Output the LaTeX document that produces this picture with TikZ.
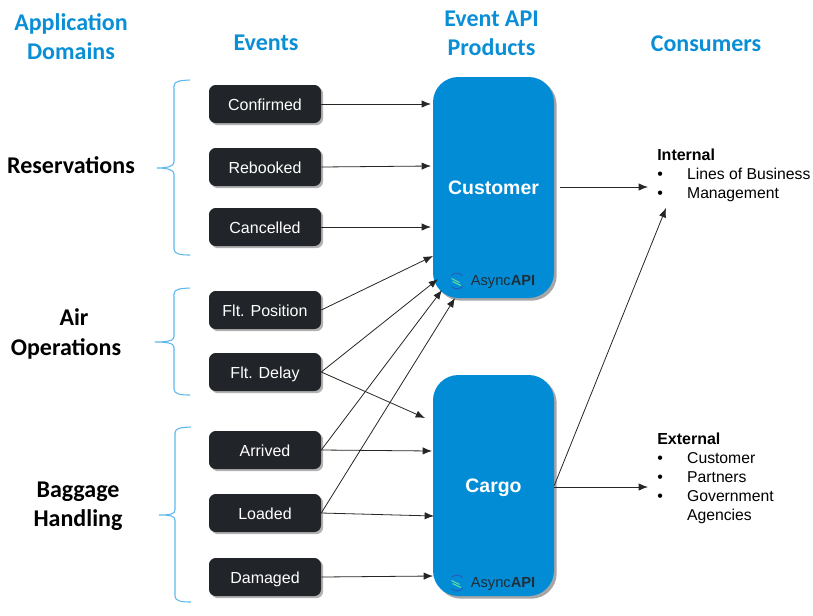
\documentclass[tikz,border=0pt]{standalone}
\usepackage{fontspec}
\setmainfont{Liberation Sans}
\newfontfamily\carl{Carlito}
\usetikzlibrary{shadows,arrows.meta}
\definecolor{hblue}{HTML}{0A8FD6}
\definecolor{pblue}{HTML}{028CD6}
\definecolor{evbox}{HTML}{212529}
\definecolor{bracecol}{HTML}{5CB8EC}
\tikzset{
 hdrtext/.style={font=\carl\bfseries\fontsize{18}{21.75}\selectfont,text=hblue,align=center},
 domlabel/.style={font=\carl\bfseries\fontsize{18}{22}\selectfont,text=black,align=center},
 evbox/.style={draw=none,fill=evbox,rounded corners=5,minimum width=84pt,minimum height=28.5pt,inner sep=0pt,text=white,text height=9pt,text depth=0pt,font=\fontsize{12}{14}\selectfont,drop shadow={shadow xshift=1.6pt,shadow yshift=-1.6pt,fill=black,opacity=.3}},
 prodbox/.style={fill=pblue,rounded corners=19,minimum width=90.75pt,minimum height=165.75pt,inner sep=0pt,drop shadow={shadow xshift=2pt,shadow yshift=-2pt,fill=black,opacity=.35}},
 prodlab/.style={text=white,text height=9pt,text depth=0pt,font=\bfseries\fontsize{14.6}{16}\selectfont},
 conn/.style={draw=black!85,line width=.6pt,-{Latex[length=7pt,width=5.5pt]}},
 brc/.style={draw=bracecol,line width=.8pt},
 constext/.style={align=left,anchor=north west,inner sep=0pt,font=\fontsize{12}{14.3}\selectfont,text=black},
 logotext/.style={inner sep=0pt,text=evbox!90!pblue,font=\fontsize{11}{13}\selectfont},
 logoarc/.style={draw=violet!35!pblue,line width=.7pt},
 logoline/.style={draw=green!45!white!70!pblue,line width=.8pt},
}
\newcommand{\logomark}[2]{%
 \draw[logoarc] (#1+5.5,#2-5.5) arc (-45:-135:7.8);
 \draw[logoarc] (#1-5.5,#2+5.5) arc (135:45:7.8);
 \draw[logoline] (#1-5.5,#2-2.5) -- (#1+2.5,#2+1.5) (#1-4.5,#2+0.5) -- (#1+4,#2+4.5);
}
\begin{document}
\begin{tikzpicture}[x=.75pt,y=-.75pt]
\useasboundingbox (0,0) rectangle (813,615);
\node[hdrtext] (hA) at (71,36.5) {Application\\Domains};
\node[hdrtext] (hE) at (266,43) {Events};
\node[hdrtext] (hP) at (491.5,33.5) {Event API\\Products};
\node[hdrtext] (hC) at (706,44) {Consumers};
\node[domlabel] (dR) at (71,165) {Reservations};
\node[domlabel] (dA) at (66,334) {\hspace{12pt}Air\\Operations};
\node[domlabel] (dB) at (78,506) {Baggage\\Handling};
\node[prodbox] (cust) at (493.5,187.5) {};
\node[prodbox] (cargo) at (493.5,485.5) {};
\node[prodlab] (custL) at (493.5,188) {Customer};
\node[prodlab] (cargoL) at (493.5,486) {Cargo};
\logomark{457}{281}
\logomark{457}{583}
\node[logotext] (l1) at (503,282) {Async\textbf{API}};
\node[logotext] (l2) at (503,584) {Async\textbf{API}};
\node[evbox] (e1) at (265,104) {Confirmed};
\node[evbox] (e2) at (265,167) {Rebooked};
\node[evbox] (e3) at (265,227) {Cancelled};
\node[evbox] (e4) at (265,310) {Flt. Position};
\node[evbox] (e5) at (265,372) {Flt. Delay};
\node[evbox] (e6) at (265,450) {Arrived};
\node[evbox] (e7) at (265,513) {Loaded};
\node[evbox] (e8) at (265,577) {Damaged};
\coordinate (a1) at (431,104);
\coordinate (a2) at (431,166);
\coordinate (a3) at (431,227);
\coordinate (a4) at (433,256);
\coordinate (a5) at (438,279);
\coordinate (a6) at (442,290);
\coordinate (a7) at (455,298);
\coordinate (b1) at (425,418);
\coordinate (b2) at (432,451);
\coordinate (b3) at (434,516);
\coordinate (b4) at (433,576);
\coordinate (c1) at (648,187);
\coordinate (c2) at (666,208);
\coordinate (c3) at (648,487);
\coordinate (s1) at (560,187);
\draw[conn] (e1.east) -- (a1);
\draw[conn] (e2.east) -- (a2);
\draw[conn] (e3.east) -- (a3);
\draw[conn] (e4.east) -- (a4);
\draw[conn] (e5.east) -- (a5);
\draw[conn] (e5.east) -- (b1);
\draw[conn] (e6.east) -- (a6);
\draw[conn] (e6.east) -- (b2);
\draw[conn] (e7.east) -- (a7);
\draw[conn] (e7.east) -- (b3);
\draw[conn] (e8.east) -- (b4);
\draw[conn] (s1) -- (c1);
\draw[conn] (cargo.east) -- (c2);
\draw[conn] (cargo.east) ++(0,1.5) -- (c3);
\draw[brc] (190,80) .. controls (180,80.5) and (174,81) .. (174,86) -- (174,162) .. controls (174,166) and (168,168) .. (157,168) .. controls (168,168) and (174,170) .. (174,174) -- (174,249) .. controls (174,254) and (180,255) .. (190,255);
\draw[brc] (190,288) .. controls (180,288.5) and (174,289) .. (174,294) -- (174,337) .. controls (174,341) and (166,342) .. (155,342) .. controls (166,342) and (174,343) .. (174,347) -- (174,389) .. controls (174,394) and (180,395) .. (190,395);
\draw[brc] (191,427) .. controls (181,427.5) and (175,428) .. (175,433) -- (175,510) .. controls (175,514) and (170,515) .. (159,515) .. controls (170,515) and (175,516) .. (175,520) -- (175,596) .. controls (175,601) and (181,602) .. (191,602);
\node[constext] (int) at (657,148.5) {\textbf{Internal}\\•\hspace{18.2pt}\fontsize{11.8}{14.3}\selectfont Lines of Business\\•\hspace{18.2pt}\fontsize{11.8}{14.3}\selectfont Management};
\node[constext] (ext) at (657,432.5) {\textbf{External}\\•\hspace{18.2pt}\fontsize{11.8}{14.3}\selectfont Customer\\•\hspace{18.2pt}\fontsize{11.8}{14.3}\selectfont Partners\\•\hspace{18.2pt}\fontsize{11.8}{14.3}\selectfont Government\\\phantom{•}\hspace{18.2pt}\fontsize{11.8}{14.3}\selectfont Agencies};
\end{tikzpicture}
\end{document}
